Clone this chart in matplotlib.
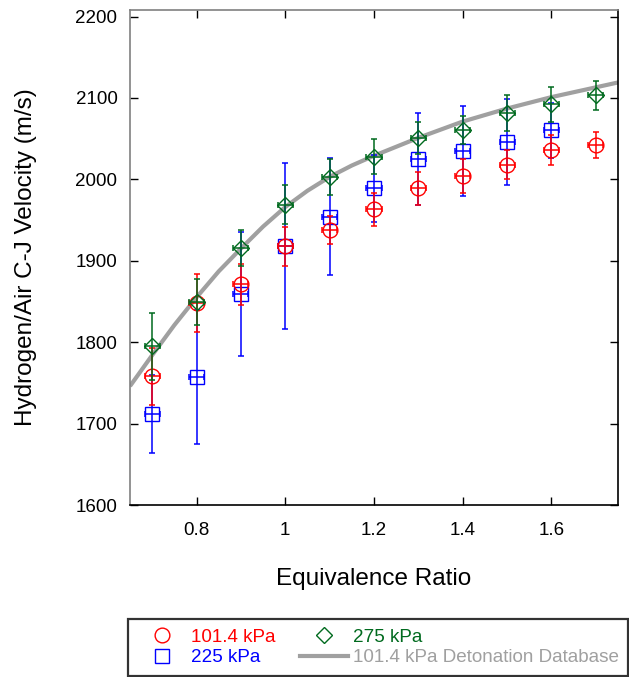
import matplotlib
matplotlib.use("Agg")
import matplotlib.pyplot as plt
from matplotlib.lines import Line2D

plt.rcParams['font.family'] = ['Liberation Sans', 'DejaVu Sans']

# Data
phi_red = [0.7, 0.8, 0.9, 1.0, 1.1, 1.2, 1.3, 1.4, 1.5, 1.6, 1.7]
v_red = [1758, 1848, 1871, 1918, 1938, 1963, 1989, 2004, 2018, 2036, 2042]
e_red = [35, 36, 25, 24, 17, 20, 20, 21, 18, 18, 16]

phi_blue = [0.7, 0.8, 0.9, 1.0, 1.1, 1.2, 1.3, 1.4, 1.5, 1.6]
v_blue = [1712, 1757, 1859, 1918, 1954, 1989, 2025, 2035, 2046, 2060]
e_blue = [48, 82, 76, 102, 72, 41, 57, 55, 53, 34]

phi_green = [0.7, 0.8, 0.9, 1.0, 1.1, 1.2, 1.3, 1.4, 1.5, 1.6, 1.7]
v_green = [1795, 1849, 1916, 1969, 2003, 2028, 2051, 2061, 2081, 2092, 2103]
e_green = [41, 28, 22, 24, 22, 21, 20, 17, 22, 22, 18]

phi_err = 0.017

phi_db = [0.65, 0.7, 0.75, 0.8, 0.85, 0.9, 0.95, 1.0, 1.05, 1.1, 1.15, 1.2,
          1.25, 1.3, 1.4, 1.5, 1.6, 1.7, 1.75]
v_db = [1746, 1784, 1821, 1855, 1887, 1915, 1942, 1966, 1986, 2003, 2017, 2029,
        2040, 2051, 2071, 2087, 2101, 2113, 2119]

labels = ['101.4 kPa', '225 kPa', '275 kPa', '101.4 kPa Detonation Database']
c_red = '#ff0000'
c_blue = '#0000ff'
c_green = '#006a1e'
c_gray = '#a0a0a0'

fig = plt.figure(figsize=(6.29, 6.77), dpi=100)
ax = fig.add_axes([130/629, 1-505/677, 488/629, 495/677])

ax.plot(phi_db, v_db, color=c_gray, lw=3.0, zorder=1, solid_capstyle='butt')

def series(x, y, e, color, marker, ms, z):
    ax.errorbar(x, y, yerr=e, xerr=phi_err, fmt='none', ecolor=color,
                elinewidth=1.1, capsize=2.4, capthick=1.1, zorder=z)
    ax.plot(x, y, linestyle='none', marker=marker, ms=ms, mfc='none',
            mec=color, mew=1.0, zorder=z + 0.5)

series(phi_blue, v_blue, e_blue, c_blue, 's', 10.5, 2)
series(phi_red, v_red, e_red, c_red, 'o', 10.6, 3)
series(phi_green, v_green, e_green, c_green, 'D', 8.0, 4)

ax.set_xlim(0.65, 1.75)
ax.set_ylim(1600, 2208)
ax.set_xticks([0.8, 1.0, 1.2, 1.4, 1.6])
ax.set_xticklabels(['0.8', '1', '1.2', '1.4', '1.6'])
ax.set_yticks([1600, 1700, 1800, 1900, 2000, 2100, 2200])
ax.tick_params(direction='in', length=6, width=1.0, top=True, right=True,
               labelsize=13.5, pad=9, colors='black')
ax.tick_params(axis='x', pad=12)

for s in ['top', 'left']:
    ax.spines[s].set_color('#808080')
    ax.spines[s].set_linewidth(1.2)
for s in ['bottom', 'right']:
    ax.spines[s].set_color('black')
    ax.spines[s].set_linewidth(1.2)

ax.set_xlabel('Equivalence Ratio', fontsize=17.5, labelpad=21)
ax.set_ylabel('Hydrogen/Air C-J Velocity (m/s)', fontsize=17.5, labelpad=28)

handles = [
    Line2D([], [], linestyle='none', marker='o', ms=10.6, mfc='none', mec=c_red, mew=1.0),
    Line2D([], [], linestyle='none', marker='s', ms=10.5, mfc='none', mec=c_blue, mew=1.0),
    Line2D([], [], linestyle='none', marker='D', ms=8.0, mfc='none', mec=c_green, mew=1.0),
    Line2D([], [], color=c_gray, lw=3.0),
]
leg = fig.legend(handles, labels, ncol=2, loc='lower right',
                 bbox_to_anchor=(0.999, 0.002), fontsize=13.6,
                 frameon=True, fancybox=False, edgecolor='black',
                 handlelength=2.54, handletextpad=0.26, columnspacing=1.32,
                 labelspacing=0.16, borderpad=0.5, borderaxespad=0.0)
leg.get_frame().set_linewidth(1.6)
for t, c in zip(leg.get_texts(), [c_red, c_blue, c_green, c_gray]):
    t.set_color(c)

fig.savefig('out.png', dpi=100)
